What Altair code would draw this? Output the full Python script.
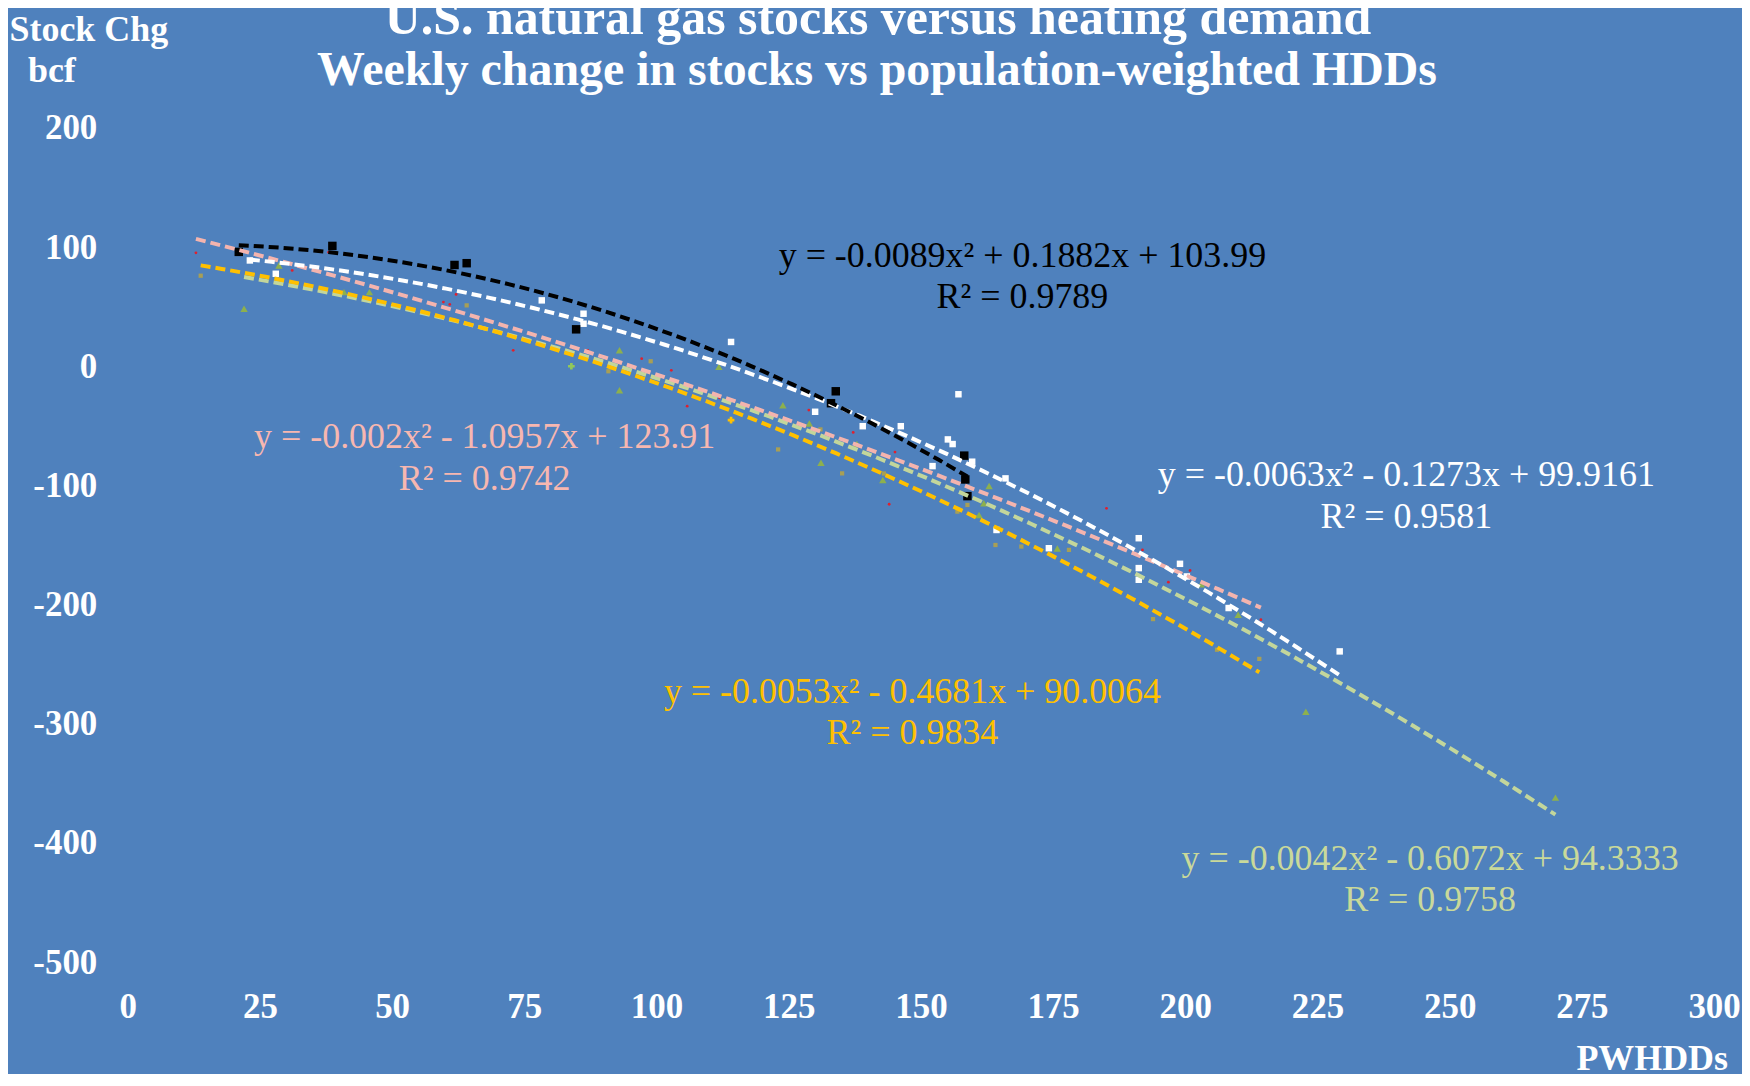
import altair as alt
import pandas as pd

FONT = "Liberation Serif"

# ---------------- data ----------------
x_ticks = [0, 25, 50, 75, 100, 125, 150, 175, 200, 225, 250, 275, 300]
y_ticks = [-500, -400, -300, -200, -100, 0, 100, 200]

# black squares
black_x = [21.0, 38.7, 61.8, 64.1, 84.8, 133.0, 133.9, 158.2, 158.4, 158.8]
black_y = [96.0, 101.0, 85.0, 86.5, 31.0, -31.0, -21.0, -75.0, -95.0, -109.0]

# white squares
white_x = [23.1, 28.0, 78.3, 86.2, 86.2, 114.1, 130.0, 139.0, 146.2, 152.2, 155.1, 156.0,
           157.1, 159.7, 164.3, 166.0, 174.2, 191.2, 191.2, 191.2, 199.0, 200.3, 208.2, 229.2]
white_y = [88.8, 77.6, 55.3, 44.1, 35.7, 20.4, -38.2, -50.3, -50.3, -83.8, -61.4, -65.3,
           -23.5, -80.1, -137.4, -94.1, -152.7, -144.3, -169.4, -179.2, -165.8, -176.4, -202.9, -239.3]

# small red dots (pink trend)
red_x = [12.9, 31.1, 38.0, 59.7, 60.9, 62.1, 72.9, 87.0, 97.2, 102.8, 105.8, 111.9, 121.0,
         128.8, 137.2, 144.0, 145.1, 185.1, 191.9, 196.8, 200.9, 214.3]
red_y = [95.2, 80.4, 95.7, 53.9, 51.9, 60.3, 13.4, 13.4, 6.4, -3.4, -33.5, -26.5, -50.3,
         -36.8, -55.5, -115.8, -72.0, -119.2, -154.1, -181.2, -171.4, -212.7]

# olive squares (orange trend)
olive_x = [13.8, 64.1, 90.9, 98.9, 123.0, 131.0, 135.1, 143.0, 156.9, 158.8, 164.1, 169.0,
           178.0, 193.9, 206.0, 214.0]
olive_y = [76.0, 51.1, -4.2, 4.2, -69.8, -53.0, -89.9, -90.0, -122.0, -116.4, -150.0, -151.3,
           -154.1, -212.2, -237.9, -245.6]

# green triangles (light green trend)
green_x = [22.0, 28.6, 40.9, 45.7, 93.0, 93.0, 111.8, 123.9, 128.9, 131.1, 137.9, 142.8,
           161.0, 161.9, 162.9, 175.8, 203.0, 210.0, 222.8, 270.0]
green_y = [48.3, 84.6, 62.2, 62.2, 13.4, -20.1, -0.5, -32.7, -48.0, -81.0, -65.3, -95.5,
           -124.8, -115.0, -100.5, -153.0, -183.0, -208.5, -290.0, -362.0]

# odd "+" markers
gold_plus_x = [114.1]
gold_plus_y = [-45.2]
lime_plus_x = [83.9]
lime_plus_y = [0.0]

# trendline equation labels
eq_lines = [
    "y = -0.0089x² + 0.1882x + 103.99", "R² = 0.9789",
    "y = -0.002x² - 1.0957x + 123.91", "R² = 0.9742",
    "y = -0.0063x² - 0.1273x + 99.9161", "R² = 0.9581",
    "y = -0.0053x² - 0.4681x + 90.0064", "R² = 0.9834",
    "y = -0.0042x² - 0.6072x + 94.3333", "R² = 0.9758",
]
# label anchor positions (data units)
eq_pos_x = [169.2, 169.2, 67.5, 67.5, 241.8, 241.8, 148.4, 148.4, 246.3, 246.3]
eq_pos_y = [92.5, 57.8, -59.0, -94.5, -91.7, -126.3, -273.0, -307.6, -413.2, -447.8]
eq_colors = ["#000000", "#000000", "#F7B7B0", "#F7B7B0", "#FFFFFF", "#FFFFFF",
             "#FFC000", "#FFC000", "#C9D99A", "#C9D99A"]

title_lines = ["U.S. natural gas stocks versus heating demand",
               "Weekly change in stocks vs population-weighted HDDs"]

# ---------------- chart ----------------
X = alt.X("x:Q", scale=alt.Scale(domain=[0, 300], nice=False, zero=False),
          axis=alt.Axis(values=x_ticks, title=None, labelPadding=28, labelFlush=False))
Y = alt.Y("y:Q", scale=alt.Scale(domain=[-500, 200], nice=False, zero=False),
          axis=alt.Axis(values=y_ticks, title=None, labelPadding=31, labelFlush=False,
                        labelExpr="'' + datum.value"))


def frame(xs, ys):
    return pd.DataFrame({"x": xs, "y": ys})


def points(xs, ys, shape, color, size, filled=True):
    return alt.Chart(frame(xs, ys)).mark_point(
        shape=shape, color=color, size=size, filled=filled, opacity=1, strokeWidth=2
    ).encode(x=X, y=Y)


def trend(xs, ys, color):
    return alt.Chart(frame(xs, ys)).transform_regression(
        "x", "y", method="poly", order=2
    ).mark_line(color=color, strokeWidth=4, strokeDash=[10, 5]).encode(x=X, y=Y)


pts = [
    points(green_x, green_y, "triangle-up", "#8DB04E", 55),
    points(olive_x, olive_y, "square", "#A89F55", 18),
    points(red_x, red_y, "circle", "#E0202E", 8),
    points(white_x, white_y, "square", "#FFFFFF", 42),
    points(black_x, black_y, "square", "#000000", 72),
    points(gold_plus_x, gold_plus_y, "cross", "#FFC000", 45),
    points(lime_plus_x, lime_plus_y, "cross", "#92C85A", 45),
]
lines = [
    trend(green_x, green_y, "#C3D69B"),
    trend(olive_x, olive_y, "#FFC000"),
    trend(red_x, red_y, "#F4B4AE"),
    trend(white_x, white_y, "#FFFFFF"),
    trend(black_x, black_y, "#000000"),
]

eq_df = pd.DataFrame({"text": eq_lines, "x": eq_pos_x, "y": eq_pos_y, "color": eq_colors})
eqs = alt.Chart(eq_df).mark_text(font=FONT, fontSize=36, align="center", baseline="middle").encode(
    x=X, y=Y, text="text:N", color=alt.Color("color:N", scale=None)
)


def label(text, px, py, size=36, align="center", baseline="middle"):
    return alt.Chart(pd.DataFrame({"t": [text]})).mark_text(
        font=FONT, fontSize=size, fontWeight="bold", color="white", align=align, baseline=baseline
    ).encode(text="t:N", x=alt.value(px), y=alt.value(py))


titles = [
    label(title_lines[0], 752, -109, size=50),
    label(title_lines[1], 751, -57, size=48),
    label("Stock Chg", -39, -98),
    label("bcf", -76, -57),
    label("PWHDDs", 1604, 944, align="right", baseline="alphabetic"),
]

chart = alt.layer(*pts, *lines, eqs, *titles).properties(
    width=1590,
    height=836,
    padding={"left": 120, "top": 119, "right": 28, "bottom": 111},
    autosize=alt.AutoSizeParams(type="none"),
    background="#4F81BD",
).configure_view(stroke=None).configure_axis(
    grid=False, domain=False, ticks=False,
    labelFont=FONT, labelFontSize=35, labelFontWeight="bold", labelColor="white",
)

chart.save("out.html", embed_options={"renderer": "svg", "actions": False})
